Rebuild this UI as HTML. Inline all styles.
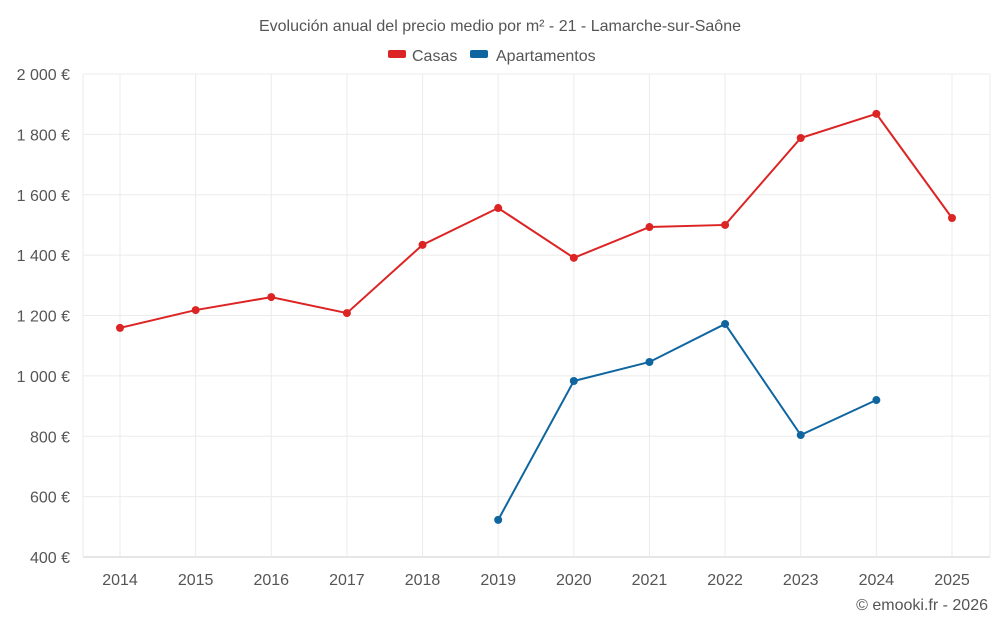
<!DOCTYPE html>
<html><head><meta charset="utf-8"><style>
body{margin:0;background:#fff;font-family:"Liberation Sans",sans-serif;}
svg text{font-family:"Liberation Sans",sans-serif;fill:#555;}
</style></head><body>
<svg id="chart" width="1000" height="625">
<text x="500" y="31" text-anchor="middle" font-size="16">Evolución anual del precio medio por m² - 21 - Lamarche-sur-Saône</text>
<g><rect x="388" y="50" width="18" height="8" rx="2" fill="#dc2424"/><text x="412" y="61" font-size="16">Casas</text></g>
<g><rect x="470" y="50" width="18" height="8" rx="2" fill="#0f65a0"/><text x="496" y="61" font-size="16">Apartamentos</text></g>
<g id="grid"></g><g id="series"></g>
<text x="988" y="610" text-anchor="end" font-size="16">© emooki.fr - 2026</text>
</svg>
<script>
const years=[2014,2015,2016,2017,2018,2019,2020,2021,2022,2023,2024,2025];
const casas=[1159,1218,1261,1208,1434,1556,1391,1493,1500,1788,1868,1523];
const apartamentos=[null,null,null,null,null,523,983,1046,1172,804,920,null];
const yTicks=[400,600,800,1000,1200,1400,1600,1800,2000];
const NS="http://www.w3.org/2000/svg";
const L=83,R=990,T=74,B=557;
const x=i=>120+i*(952-120)/11;
const y=v=>B-(v-400)*(B-T)/1600;
const g=document.getElementById('grid'),s=document.getElementById('series');
function el(t,a,p){const e=document.createElementNS(NS,t);for(const k in a)e.setAttribute(k,a[k]);p.appendChild(e);return e;}
yTicks.forEach(v=>{
 const ln=el('line',{x1:L,x2:R,y1:y(v),y2:y(v),stroke:v==400?'#ccc':'#ebebeb'},g);
 
 
 const t=el('text',{x:70,y:y(v)+6,'text-anchor':'end','font-size':16},g);
 t.textContent=(v>=1000?Math.floor(v/1000)+' '+String(v%1000).padStart(3,'0'):v)+' €';
 
 
});
years.forEach((yr,i)=>{
 const ln=el('line',{x1:x(i),x2:x(i),y1:T,y2:B,stroke:'#ebebeb'},g);
 
 
 const t=el('text',{x:x(i),y:585,'text-anchor':'middle','font-size':16},g);
 t.textContent=yr;
 
 
});
[L,R].forEach(xx=>{
 const vl=el('line',{x1:xx,x2:xx,y1:T,y2:B,stroke:'#ebebeb'},g);
 
 
});
function draw(data,color,name){
 const pts=[];data.forEach((v,i)=>{if(v!=null)pts.push([x(i),y(v)]);});
 const p=el('polyline',{points:pts.map(q=>q.join(',')).join(' '),fill:'none',stroke:color,'stroke-width':2},s);
 
 
 pts.forEach(q=>{const c=el('circle',{cx:q[0],cy:q[1],r:4,fill:color},s);
  
  });
}
draw(casas,'#dc2424','casas');
draw(apartamentos,'#0f65a0','apartamentos');
</script>
</body></html>
